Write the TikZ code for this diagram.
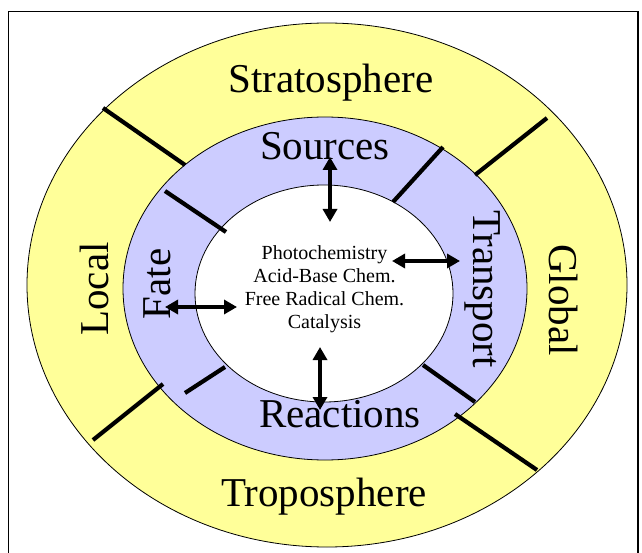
\documentclass[tikz,border=0pt]{standalone}
\usepackage{fontspec}
\setmainfont{Liberation Serif}
\usetikzlibrary{arrows.meta}

\definecolor{ringyellow}{RGB}{255,255,153}
\definecolor{ringblue}{RGB}{204,204,255}

\begin{document}
\begin{tikzpicture}%
	[x=1pt,y=-1pt,
	ring/.style={draw=black, line width=0.8pt},
	divider/.style={line width=4.2pt},
	link/.style={line width=3.5pt, {Triangle[length=13pt,width=14pt]}-{Triangle[length=13pt,width=14pt]}},
	biglabel/.style={inner sep=0pt, font=\fontsize{41}{41}\selectfont},
	chemlist/.style={inner sep=0pt, align=center, font=\fontsize{20}{23}\selectfont}]
%
%
%% Page and frame
%%
\useasboundingbox (0,0) rectangle (642,553);
\draw[line width=1.5pt] (8.5,560) -- (8.5,11.5) -- (638,11.5) -- (638,560);
%%
%%
%% Drawing the rings
%%
\draw[ring, fill=ringyellow] (327,285) ellipse [x radius=300, y radius=262];
\draw[ring, fill=ringblue] (325,288.5) ellipse [x radius=202, y radius=171.5];
\draw[ring, fill=white] (324,293.5) ellipse [x radius=129, y radius=108.5];
%%
%%
%% Coordinates of the dividers
%%
\coordinate (outerUL1) at (103,108);
\coordinate (outerUL2) at (185,165);
\coordinate (outerUR1) at (547,118);
\coordinate (outerUR2) at (475,175);
\coordinate (outerLR1) at (455,414);
\coordinate (outerLR2) at (537,470);
\coordinate (outerLL1) at (163,384);
\coordinate (outerLL2) at (93,440);
\coordinate (innerUL1) at (165,191);
\coordinate (innerUL2) at (226,232);
\coordinate (innerUR1) at (443,147);
\coordinate (innerUR2) at (393,202);
\coordinate (innerLR1) at (423,365);
\coordinate (innerLR2) at (475,402);
\coordinate (innerLL1) at (225,367);
\coordinate (innerLL2) at (185,393);
%%
%%
%% Drawing the dividers
%%
\draw[divider] (outerUL1) -- (outerUL2);
\draw[divider] (outerUR1) -- (outerUR2);
\draw[divider] (outerLR1) -- (outerLR2);
\draw[divider] (outerLL1) -- (outerLL2);
\draw[divider] (innerUL1) -- (innerUL2);
\draw[divider] (innerUR1) -- (innerUR2);
\draw[divider] (innerLR1) -- (innerLR2);
\draw[divider] (innerLL1) -- (innerLL2);
%%
%%
%% Drawing the labels
%%
\node[biglabel, anchor=base] (strato) at (331,93) {Stratosphere};
\node[biglabel, anchor=base] (tropo) at (324,506) {Troposphere};
\node[biglabel, rotate=90] (local) at (94,289) {Local};
\node[biglabel, rotate=-90] (global) at (564,300) {Global};
\node[biglabel, anchor=base] (sources) at (325,160) {Sources};
\node[biglabel, anchor=base] (reactions) at (340,427) {Reactions};
\node[biglabel, rotate=90] (fate) at (157,284) {Fate};
\node[biglabel, rotate=-90] (transport) at (483,289) {Transport};
\node[chemlist] (chem) at (324.5,289) {Photochemistry\\Acid-Base Chem.\\Free Radical Chem.\\Catalysis};
%%
%%
%% Coordinates of the arrows
%%
\coordinate (sourcesA) at (330,157);
\coordinate (sourcesB) at (330,222);
\coordinate (reactionsA) at (320,347);
\coordinate (reactionsB) at (320,410);
\coordinate (transportA) at (392,261);
\coordinate (transportB) at (460,261);
\coordinate (fateA) at (165,307);
\coordinate (fateB) at (237,307);
%%
%%
%% Drawing the arrows
%%
\draw[link] (sourcesA) -- (sourcesB);
\draw[link] (reactionsA) -- (reactionsB);
\draw[link] (transportA) -- (transportB);
\draw[link] (fateA) -- (fateB);
%%
%%
\end{tikzpicture}
\end{document}
